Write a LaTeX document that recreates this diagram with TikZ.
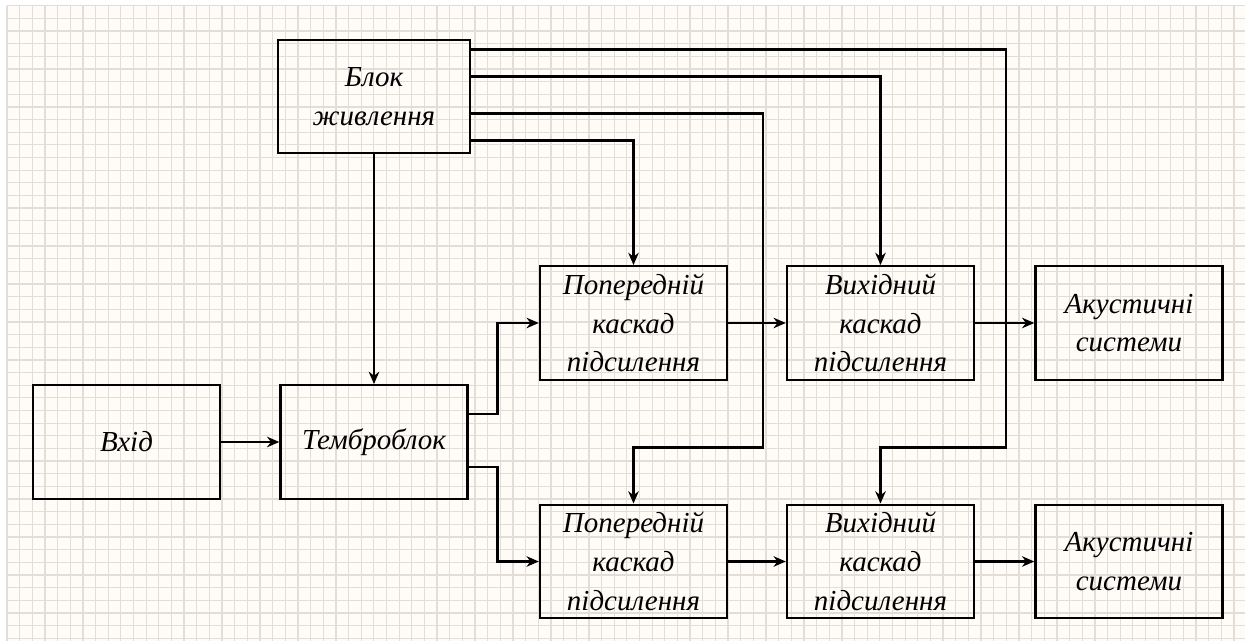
\documentclass[tikz,border=0pt]{standalone}
\usepackage{fontspec}
\setmainfont{Liberation Serif}
\usetikzlibrary{
  arrows.meta,  % стрілки Stealth
  calc          % зсуви від вузлів
}
\definecolor{papir}{HTML}{FFFCF7}
\definecolor{klitynka}{HTML}{E1DED9}
\tikzset{
  blok/.style={
    draw,
    line width=1.4pt,
    minimum width=3.74cm,
    minimum height=2.27cm,
    inner sep=0pt,
    align=center,
    font=\fontsize{16.5}{22}\selectfont\itshape
  },
  zvjazok/.style={
    -{Stealth[length=7pt,width=6pt]},
    line width=1.4pt
  },
  sitka/.style={
    draw=klitynka,
    line width=0.7pt
  }
}

\begin{document}
\begin{tikzpicture}[x=0.02cm, y=-0.02cm]
    \useasboundingbox (0,0) rectangle (1245,641);

    % --- фон: папір у клітинку ---
    \fill[papir] (7,5.7) rectangle (1245,641);
    \foreach \i in {0,...,97} {
      \draw[sitka] ({7+12.65*\i},5.7) -- ({7+12.65*\i},641);
    }
    \foreach \j in {0,...,50} {
      \draw[sitka] (7,{5.7+12.65*\j}) -- (1245,{5.7+12.65*\j});
    }

    % --- блоки ---
    \node[blok, minimum width=3.84cm] (bp) at (374,96.5) {Блок\\живлення};
    \node[blok] (vh) at (126.5,442) {Вхід};
    \node[blok] (tb) at (374,442) {Темброблок};

    % верхній канал
    \node[blok] (pk1) at (633.5,323) {Попередній\\каскад\\підсилення};
    \node[blok] (vk1) at (880.5,323) {Вихідний\\каскад\\підсилення};
    \node[blok] (ak1) at (1129,323) {Акустичні\\системи};

    % нижній канал
    \node[blok] (pk2) at (633.5,561.5) {Попередній\\каскад\\підсилення};
    \node[blok] (vk2) at (880.5,561.5) {Вихідний\\каскад\\підсилення};
    \node[blok] (ak2) at (1129,561.5) {Акустичні\\системи};

    % --- сигнальні зв'язки ---
    \draw[zvjazok] (vh.east) -- (tb.west);
    \draw[zvjazok] ($(tb.north east)+(0,30)$) -- ++(29,0) |- (pk1.west);
    \draw[zvjazok] ($(tb.north east)+(0,83)$) -- ++(29,0) |- (pk2.west);
    \draw[zvjazok] (pk1.east) -- (vk1.west);
    \draw[zvjazok] (vk1.east) -- (ak1.west);
    \draw[zvjazok] (pk2.east) -- (vk2.west);
    \draw[zvjazok] (vk2.east) -- (ak2.west);

    % --- живлення ---
    \draw[zvjazok] (bp.south) -- (tb.north);
    \draw[zvjazok] ($(bp.north east)+(0,11)$) -- ++(535,0) -- ++(0,398) -| (vk2.north);
    \draw[zvjazok] ($(bp.north east)+(0,38)$) -| (vk1.north);
    \draw[zvjazok] ($(bp.north east)+(0,75)$) -- ++(292,0) -- ++(0,334) -| (pk2.north);
    \draw[zvjazok] ($(bp.north east)+(0,102)$) -| (pk1.north);

\end{tikzpicture}
\end{document}
